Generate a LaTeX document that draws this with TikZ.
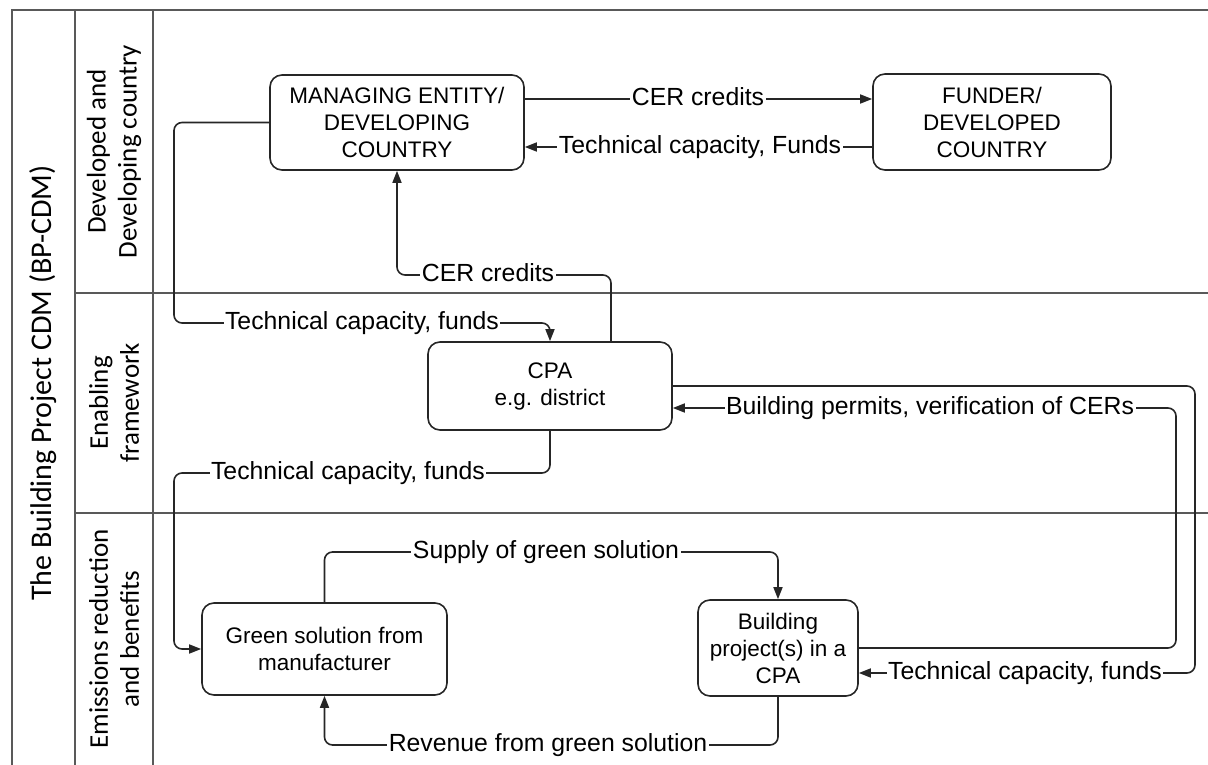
\documentclass[tikz,border=0pt]{standalone}
\usepackage{fontspec}
\setmainfont{Liberation Sans}
\newfontfamily\lanefont{Carlito}
\usetikzlibrary{arrows.meta}
\begin{document}
\begin{tikzpicture}[x=1pt,y=-1pt,
  frame/.style={draw=black!65, line width=1.8pt},
  box/.style={draw=black!85, rounded corners=12pt, line width=1.6pt, align=center,
    font=\fontsize{22.5}{27}\selectfont, inner sep=0pt},
  conn/.style={draw=black!85, line width=1.6pt, rounded corners=8pt,
    -{Triangle[length=12pt,width=9pt]}},
  lbl/.style={fill=white, inner xsep=1.5pt, inner ysep=0pt, anchor=base, yshift=-6.5pt,
    font=\fontsize{24.8}{29}\selectfont},
  lane/.style={rotate=90, align=center, font=\lanefont\fontsize{27}{31}\selectfont}]
\useasboundingbox (0,0) rectangle (1208,765);
% frame
\draw[frame] (12,765) -- (12,10) -- (1208,10);
\draw[frame] (75,10) -- (75,765);
\draw[frame] (153,10) -- (153,765);
\draw[frame] (75,293) -- (1208,293);
\draw[frame] (75,513) -- (1208,513);
% lane titles
\node[lane, font=\lanefont\fontsize{30}{36}\selectfont] (title) at (43.5,383) {The Building Project CDM (BP-CDM)};
\node[lane] (laneA) at (114,151.5) {Developed and\\Developing country};
\node[lane] (laneB) at (114,403) {Enabling\\framework};
\node[lane] (laneC) at (114,639) {Emissions reduction\\and benefits};
% boxes
\node[box, minimum width=254pt, minimum height=95pt] (me) at (397,122.5) {MANAGING ENTITY/\\DEVELOPING\\COUNTRY};
\node[box, minimum width=238pt, minimum height=96pt] (fu) at (992,122) {FUNDER/\\DEVELOPED\\COUNTRY};
\node[box, minimum width=244pt, minimum height=88pt] (cpa) at (550,386) {CPA\\e.g. district};
\node[box, minimum width=245pt, minimum height=92pt] (gs) at (324.5,649) {Green solution from\\manufacturer};
\node[box, minimum width=160pt, minimum height=96pt] (bp) at (778,648) {Building\\project(s) in a\\CPA};
% bend points
\coordinate (y99) at (0,99);
\coordinate (y147) at (0,147);
\coordinate (c1) at (174,323);
\coordinate (c2) at (611,275);
\coordinate (c3) at (174,473);
\coordinate (c4) at (324.5,552);
\coordinate (c5) at (778,745);
\coordinate (c6) at (1176,408);
\coordinate (c7) at (1195,673);
% connectors
\draw[conn] (me.east |- y99) -- (fu.west |- y99);
\draw[conn] (fu.west |- y147) -- (me.east |- y147);
\draw[conn] (cpa.north -| c2) -- (c2) -| (me.south);
\draw[conn] (me.west) -| (c1) -| (cpa.north);
\draw[conn] (cpa.south) |- (c3) |- (gs.west);
\draw[conn] (gs.north) -- (c4) -| (bp.north);
\draw[conn] (bp.south) -- (c5) -| (gs.south);
\draw[conn] (bp.east) -| (c6) -- (cpa.east |- c6);
\draw[conn] (cpa.east) -| (c7) -- (bp.east |- c7);
% labels
\node[lbl] (l1) at (698,99) {CER credits};
\node[lbl] (l2) at (700,147) {Technical capacity, Funds};
\node[lbl] (l3) at (488,275) {CER credits};
\node[lbl] (l4) at (362,323) {Technical capacity, funds};
\node[lbl] (l5) at (348,473) {Technical capacity, funds};
\node[lbl] (l6) at (546,552) {Supply of green solution};
\node[lbl] (l7) at (548,745) {Revenue from green solution};
\node[lbl] (l8) at (930,408) {Building permits, verification of CERs};
\node[lbl] (l9) at (1025,673) {Technical capacity, funds};
\end{tikzpicture}
\end{document}
